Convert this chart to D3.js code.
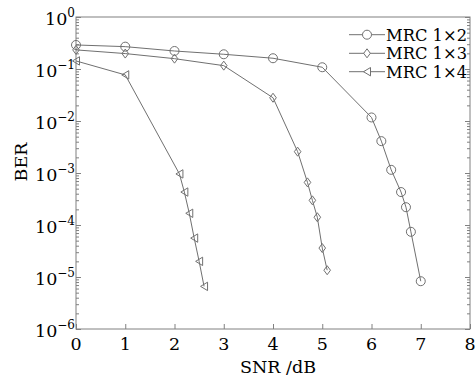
<!DOCTYPE html>
<html><head><meta charset="utf-8">
<script src="https://cdn.jsdelivr.net/npm/d3@7"></script>
<style>body{margin:0;background:#fff}svg{display:block}</style>
</head><body>
<script>
const seriesNames = ["MRC 1×2", "MRC 1×3", "MRC 1×4"];
const x12 = [0, 1, 2, 3, 4, 5, 6, 6.2, 6.4, 6.6, 6.7, 6.8, 7];
const ber12 = [0.29, 0.269, 0.222, 0.192, 0.161, 0.108, 0.0117, 0.0041, 0.00115, 0.00043, 0.00022, 0.000074, 0.0000083];
const x13 = [0, 1, 2, 3, 4, 4.5, 4.7, 4.8, 4.9, 5.0, 5.1];
const ber13 = [0.233, 0.198, 0.158, 0.116, 0.028, 0.00257, 0.00066, 0.000298, 0.000141, 0.000036, 0.0000135];
const x14 = [0, 1, 2.1, 2.2, 2.3, 2.4, 2.5, 2.6];
const ber14 = [0.143, 0.077, 0.00096, 0.00043, 0.000168, 0.000056, 0.00002, 0.0000066];
const xTicks = [0, 1, 2, 3, 4, 5, 6, 7, 8];
const yTickExps = [0, -1, -2, -3, -4, -5, -6];

const W = 476, H = 378;
const svg = d3.select("body").append("svg").attr("width", W).attr("height", H);
const x = d3.scaleLinear().domain([0, 8]).range([76, 470]);
const y = d3.scaleLog().domain([1e-6, 1]).range([329, 17]);
const axisCol = "#808080", lineCol = "#707070", txtCol = "#000";
const font = "DejaVu Serif";

// frame
svg.append("rect").attr("x", x(0)).attr("y", y(1)).attr("width", x(8) - x(0)).attr("height", y(1e-6) - y(1))
  .attr("fill", "none").attr("stroke", axisCol).attr("stroke-width", 1);

// axes (ticks inward)
const minorVals = [];
for (let e = -6; e < 0; e++) for (let m = 2; m <= 9; m++) minorVals.push(m * Math.pow(10, e));
const gL = svg.append("g").attr("transform", `translate(${x(0)},0)`)
  .call(d3.axisRight(y).tickValues(yTickExps.map(e => Math.pow(10, e))).tickSize(5).tickFormat(""));
const gLm = svg.append("g").attr("transform", `translate(${x(0)},0)`)
  .call(d3.axisRight(y).tickValues(minorVals).tickSize(3).tickFormat(""));
const gR = svg.append("g").attr("transform", `translate(${x(8)},0)`)
  .call(d3.axisLeft(y).tickValues(yTickExps.map(e => Math.pow(10, e))).tickSize(5).tickFormat(""));
const gRm = svg.append("g").attr("transform", `translate(${x(8)},0)`)
  .call(d3.axisLeft(y).tickValues(minorVals).tickSize(3).tickFormat(""));
const gB = svg.append("g").attr("transform", `translate(0,${y(1e-6)})`)
  .call(d3.axisTop(x).tickValues(xTicks).tickSize(5).tickFormat(""));
[gL, gLm, gR, gRm, gB].forEach(g => {
  g.select(".domain").remove();
  g.selectAll("line").attr("stroke", axisCol);
});

// x tick labels
svg.append("g").selectAll("text").data(xTicks).join("text")
  .attr("x", d => x(d)).attr("y", 350).attr("text-anchor", "middle")
  .attr("font-family", font).attr("font-size", 17.5).attr("fill", txtCol).text(d => d);

// y tick labels
const yl = svg.append("g").selectAll("text").data(yTickExps).join("text")
  .attr("x", 75).attr("y", d => y(Math.pow(10, d)) + 8).attr("text-anchor", "end")
  .attr("font-family", font).attr("font-size", 17.5).attr("fill", txtCol);
yl.append("tspan").text("10");
yl.append("tspan").attr("dy", -8).attr("font-size", 12).text(d => d === 0 ? "0" : "−" + (-d));

// axis titles
svg.append("text").attr("x", 278).attr("y", 373).attr("text-anchor", "middle")
  .attr("font-family", font).attr("font-size", 17.5).attr("fill", txtCol).text("SNR /dB");
svg.append("text").attr("transform", "translate(27,162) rotate(-90)").attr("text-anchor", "middle")
  .attr("font-family", font).attr("font-size", 17.5).attr("fill", txtCol).text("BER");

// markers
const circ = d3.symbol().type(d3.symbolCircle).size(Math.PI * 4.5 * 4.5);
function diamondPath() { return "M0,-4.5L3.3,0L0,4.5L-3.3,0Z"; }
function triPath() { return "M-3.5,0L3.5,-4.2L3.5,4.2Z"; }
const markers = [() => circ(), diamondPath, triPath];

const line = d3.line().x(d => x(d[0])).y(d => y(d[1]));
const data = [d3.zip(x12, ber12), d3.zip(x13, ber13), d3.zip(x14, ber14)];
data.forEach((pts, i) => {
  svg.append("path").attr("d", line(pts)).attr("fill", "none").attr("stroke", lineCol).attr("stroke-width", 1);
  svg.append("g").selectAll("path").data(pts).join("path")
    .attr("transform", d => `translate(${x(d[0])},${y(d[1])})`)
    .attr("d", markers[i]()).attr("fill", "none").attr("stroke", lineCol).attr("stroke-width", 1);
});

// legend
const legY = [34.7, 53.3, 71.7];
seriesNames.forEach((name, i) => {
  svg.append("line").attr("x1", 349).attr("x2", 385).attr("y1", legY[i]).attr("y2", legY[i])
    .attr("stroke", lineCol).attr("stroke-width", 1);
  svg.append("path").attr("transform", `translate(367,${legY[i]})`).attr("d", markers[i]())
    .attr("fill", "#fff").attr("stroke", lineCol).attr("stroke-width", 1);
  svg.append("text").attr("x", 386).attr("y", legY[i] + 6).attr("font-family", font).attr("font-size", 16.5)
    .attr("fill", txtCol).attr("textLength", 81).attr("lengthAdjust", "spacingAndGlyphs").text(name);
});
</script>
</body></html>
